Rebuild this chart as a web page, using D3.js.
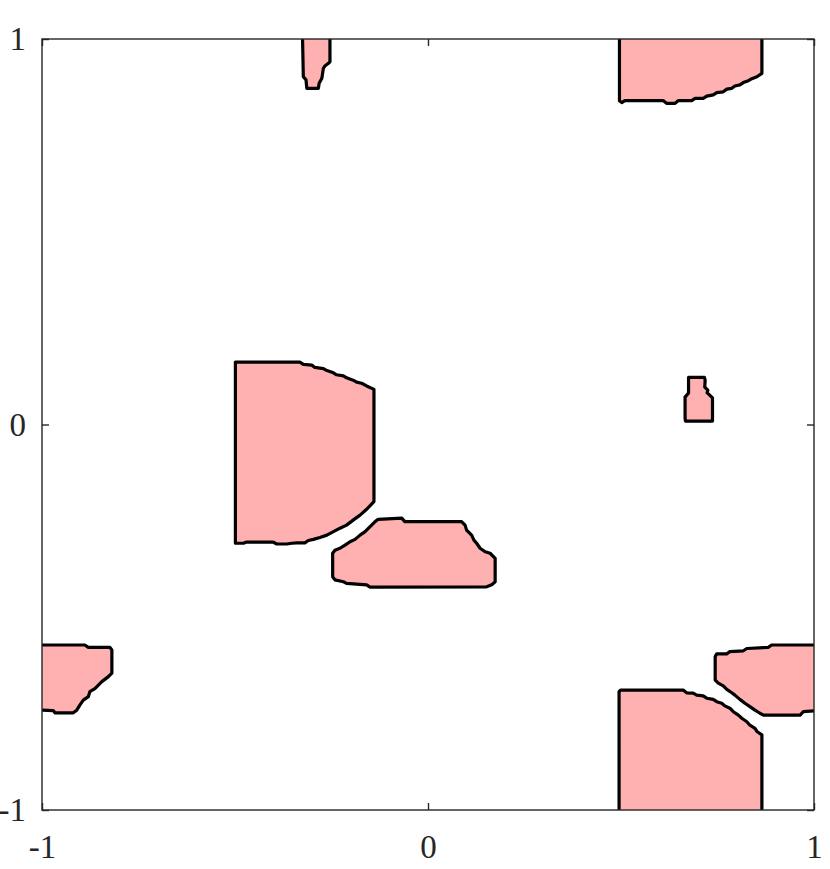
<!DOCTYPE html>
<html>
<head>
<meta charset="utf-8">
<script src="https://cdn.jsdelivr.net/npm/d3@7"></script>
<style>
  html, body { margin: 0; padding: 0; background: #fff; }
  svg { display: block; }
</style>
</head>
<body>
<svg id="chart" width="830" height="869"></svg>
<script>
// ---- data (x, y in axis units) ----
const xTicks = [-1, 0, 1];
const yTicks = [-1, 0, 1];
const tickLabels = ["-1", "0", "1"];

const regionA = [[-0.499,0.162],[-0.332,0.162],[-0.323,0.156],[-0.301,0.154],[-0.293,0.148],[-0.271,0.145],[-0.262,0.140],[-0.245,0.134],[-0.237,0.129],[-0.219,0.126],[-0.211,0.121],[-0.194,0.115],[-0.185,0.110],[-0.172,0.107],[-0.159,0.100],[-0.140,0.091],[-0.140,-0.200],[-0.159,-0.220],[-0.176,-0.235],[-0.194,-0.248],[-0.211,-0.261],[-0.228,-0.269],[-0.245,-0.278],[-0.262,-0.287],[-0.280,-0.293],[-0.297,-0.298],[-0.310,-0.301],[-0.319,-0.307],[-0.340,-0.307],[-0.353,-0.308],[-0.366,-0.310],[-0.392,-0.310],[-0.401,-0.305],[-0.470,-0.305],[-0.478,-0.308],[-0.499,-0.308]];
const regionB = [[-0.129,-0.246],[-0.068,-0.243],[-0.060,-0.252],[0.087,-0.252],[0.096,-0.261],[0.100,-0.274],[0.113,-0.287],[0.119,-0.300],[0.126,-0.308],[0.135,-0.321],[0.148,-0.330],[0.161,-0.334],[0.174,-0.347],[0.174,-0.408],[0.165,-0.416],[0.152,-0.421],[-0.150,-0.422],[-0.159,-0.416],[-0.211,-0.412],[-0.219,-0.408],[-0.241,-0.403],[-0.247,-0.395],[-0.247,-0.334],[-0.241,-0.326],[-0.228,-0.321],[-0.215,-0.313],[-0.202,-0.304],[-0.189,-0.298],[-0.176,-0.287],[-0.163,-0.278],[-0.150,-0.265],[-0.137,-0.252]];
const regionC = [[0.496,1.000],[0.496,0.840],[0.502,0.835],[0.510,0.840],[0.610,0.840],[0.618,0.833],[0.640,0.833],[0.648,0.840],[0.683,0.840],[0.692,0.846],[0.713,0.846],[0.722,0.852],[0.739,0.855],[0.748,0.861],[0.765,0.863],[0.774,0.870],[0.787,0.872],[0.795,0.878],[0.808,0.881],[0.817,0.887],[0.830,0.892],[0.839,0.897],[0.852,0.902],[0.865,0.911],[0.865,1.000]];
const regionD = [[-0.325,1.000],[-0.323,0.902],[-0.316,0.894],[-0.314,0.872],[-0.284,0.872],[-0.282,0.885],[-0.275,0.898],[-0.271,0.924],[-0.267,0.930],[-0.258,0.937],[-0.254,0.941],[-0.254,1.000]];
const regionE = [[0.675,0.122],[0.716,0.122],[0.718,0.115],[0.717,0.097],[0.725,0.089],[0.723,0.082],[0.729,0.077],[0.737,0.069],[0.737,0.009],[0.667,0.009],[0.666,0.017],[0.666,0.071],[0.675,0.082]];
const regionF = [[-1.000,-0.572],[-0.889,-0.572],[-0.880,-0.578],[-0.824,-0.578],[-0.819,-0.585],[-0.819,-0.645],[-0.828,-0.654],[-0.845,-0.667],[-0.854,-0.676],[-0.863,-0.685],[-0.876,-0.693],[-0.880,-0.706],[-0.893,-0.715],[-0.902,-0.728],[-0.910,-0.741],[-0.919,-0.748],[-0.966,-0.748],[-0.971,-0.742],[-1.000,-0.741]];
const regionG = [[0.495,-1.000],[0.495,-0.693],[0.499,-0.689],[0.661,-0.689],[0.670,-0.696],[0.687,-0.697],[0.696,-0.702],[0.713,-0.704],[0.722,-0.710],[0.739,-0.713],[0.748,-0.719],[0.761,-0.723],[0.769,-0.730],[0.782,-0.736],[0.791,-0.745],[0.804,-0.754],[0.813,-0.762],[0.826,-0.771],[0.834,-0.780],[0.847,-0.788],[0.853,-0.797],[0.865,-0.805],[0.865,-1.000]];
const regionH = [[1.000,-0.572],[0.890,-0.572],[0.882,-0.578],[0.826,-0.581],[0.817,-0.587],[0.782,-0.589],[0.774,-0.595],[0.748,-0.595],[0.744,-0.602],[0.744,-0.663],[0.752,-0.671],[0.765,-0.678],[0.774,-0.687],[0.787,-0.696],[0.795,-0.702],[0.808,-0.713],[0.821,-0.723],[0.834,-0.732],[0.847,-0.741],[0.860,-0.749],[0.869,-0.754],[0.964,-0.754],[0.972,-0.745],[1.000,-0.743]];

// closed = contour line fully inside; open = contour meets the plot border
const regions = [
  {pts: regionA, closed: true},
  {pts: regionB, closed: true},
  {pts: regionC, closed: false},
  {pts: regionD, closed: false},
  {pts: regionE, closed: true},
  {pts: regionF, closed: false},
  {pts: regionG, closed: false},
  {pts: regionH, closed: false}
];

// ---- layout ----
const L = 42, R = 814, T = 39, B = 810;
const x = d3.scaleLinear().domain([-1, 1]).range([L, R]);
const y = d3.scaleLinear().domain([-1, 1]).range([B, T]);

const svg = d3.select("#chart");
svg.append("defs").append("clipPath").attr("id", "plotclip")
  .append("rect").attr("x", L).attr("y", T).attr("width", R - L).attr("height", B - T);

const line = d3.line().x(d => x(d[0])).y(d => y(d[1]));
const g = svg.append("g").attr("clip-path", "url(#plotclip)");

g.selectAll("path.fill").data(regions).join("path")
  .attr("class", "fill")
  .attr("d", d => line(d.pts) + "Z")
  .attr("fill", "#ffb1b1")
  .attr("stroke", "none");

g.selectAll("path.edge").data(regions).join("path")
  .attr("class", "edge")
  .attr("d", d => line(d.pts) + (d.closed ? "Z" : ""))
  .attr("fill", "none")
  .attr("stroke", "#000")
  .attr("stroke-width", 3.2)
  .attr("stroke-linejoin", "round")
  .attr("stroke-linecap", "round");

// ---- axes ----
const axisColor = "#262626";
const font = "'Liberation Serif', 'Times New Roman', serif";
const tl = 7;

const ax = svg.append("g").attr("transform", `translate(0,${B})`)
  .call(d3.axisBottom(x).tickValues(xTicks).tickSize(-tl).tickPadding(tl + 18)
    .tickFormat((d, i) => tickLabels[i]));
const axT = svg.append("g").attr("transform", `translate(0,${T})`)
  .call(d3.axisTop(x).tickValues(xTicks).tickSize(-tl).tickFormat(""));
const ay = svg.append("g").attr("transform", `translate(${L},0)`)
  .call(d3.axisLeft(y).tickValues(yTicks).tickSize(-tl).tickPadding(tl + 9)
    .tickFormat((d, i) => tickLabels[i]));
const ayR = svg.append("g").attr("transform", `translate(${R},0)`)
  .call(d3.axisRight(y).tickValues(yTicks).tickSize(-tl).tickFormat(""));

[ax, axT, ay, ayR].forEach(a => {
  a.select(".domain").remove();
  a.selectAll(".tick line").attr("stroke", axisColor).attr("stroke-width", 1.4);
  a.selectAll(".tick text").attr("fill", axisColor)
    .style("font-family", font).style("font-size", "33px");
});

svg.append("rect").attr("x", L).attr("y", T).attr("width", R - L).attr("height", B - T)
  .attr("fill", "none").attr("stroke", axisColor).attr("stroke-width", 1.4);
</script>
</body>
</html>
